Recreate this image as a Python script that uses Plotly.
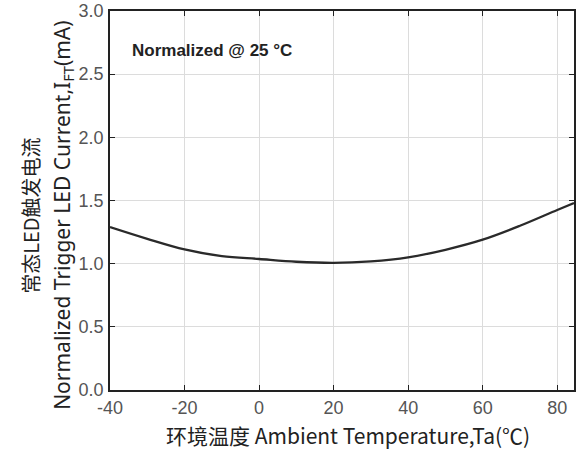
import plotly.graph_objects as go

temps = [-40, -30, -20, -10, 0, 10, 20, 30, 40, 50, 60, 70, 80, 84.5]
current = [1.29, 1.197, 1.113, 1.06, 1.037, 1.015, 1.006, 1.018, 1.05, 1.11, 1.19, 1.30, 1.425, 1.48]

x_ticks = [-40, -20, 0, 20, 40, 60, 80]
x_ticklabels = ["-40", "-20", "0", "20", "40", "60", "80"]
y_ticks = [0.0, 0.5, 1.0, 1.5, 2.0, 2.5, 3.0]
y_ticklabels = ["0.0", "0.5", "1.0", "1.5", "2.0", "2.5", "3.0"]

fig = go.Figure()
fig.add_trace(go.Scatter(x=temps, y=current, mode="lines",
                         line=dict(color="#2a2a2a", width=2.3, shape="spline", smoothing=1.0),
                         showlegend=False, hoverinfo="skip"))

axis_common = dict(showline=True, linecolor="#222", linewidth=1.5, mirror="ticks",
                   ticks="inside", ticklen=5, tickcolor="#222", tickwidth=1,
                   showgrid=True, gridcolor="#dcdcdc", gridwidth=1, zeroline=False,
                   tickfont=dict(family="Liberation Sans", size=18, color="#555"))

fig.update_xaxes(range=[-40, 84.5], tickvals=x_ticks, ticktext=x_ticklabels, ticklabelstandoff=1, **axis_common)
fig.update_yaxes(range=[0, 3.0], tickvals=y_ticks, ticktext=y_ticklabels, ticklabelstandoff=1, **axis_common)

fig.add_annotation(text="<b>Normalized @ 25 °C</b>", xref="paper", yref="paper",
                   x=0.043, y=0.895, xanchor="left", yanchor="middle", showarrow=False,
                   font=dict(family="Liberation Sans", size=17, color="#222"))

fig.add_annotation(text="常态LED触发电流", xref="paper", yref="paper",
                   x=-0.172, y=0.46, xanchor="center", yanchor="middle", showarrow=False,
                   textangle=-90,
                   font=dict(family="Noto Sans CJK SC", size=20, color="#222"))
fig.add_annotation(text="Normalized Trigger LED Current,I<sub>FT</sub>(mA)", xref="paper", yref="paper",
                   x=-0.103, y=0.46, xanchor="center", yanchor="middle", showarrow=False,
                   textangle=-90,
                   font=dict(family="Noto Sans", size=21, color="#222"))
fig.add_annotation(text="环境温度 Ambient Temperature,Ta(℃)", xref="paper", yref="paper",
                   x=0.512, y=-0.12, xanchor="center", yanchor="middle", showarrow=False,
                   font=dict(family="Noto Sans CJK SC", size=21, color="#222"))

fig.update_layout(width=577, height=450, margin=dict(l=110, r=1, t=10, b=60),
                  plot_bgcolor="white", paper_bgcolor="white")

fig.write_html("out.html")
